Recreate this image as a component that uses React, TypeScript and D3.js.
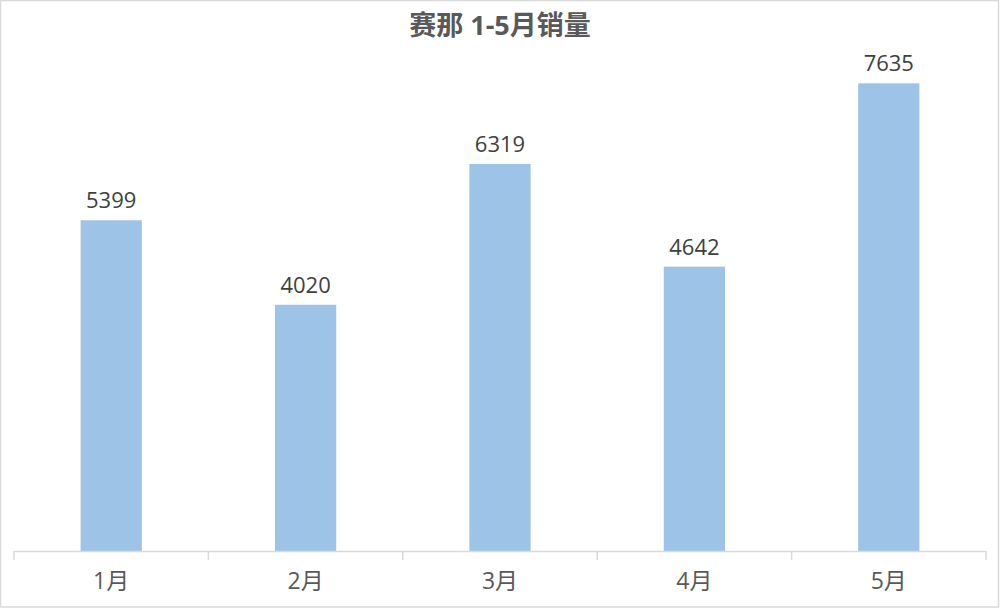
import React from 'react';
import * as d3 from "d3";

const months = ["1月", "2月", "3月", "4月", "5月"];
const sales = [5399, 4020, 6319, 4642, 7635];
const title = "赛那 1-5月销量";

const width = 1000, height = 608;
const margin = { top: 61, right: 14, bottom: 57, left: 14 };
const font = "'Open Sans', 'Noto Sans CJK SC', sans-serif";

export default function App() {
  const x = d3.scaleBand<string>()
    .domain(months)
    .range([margin.left, width - margin.right])
    .paddingInner(0.685)
    .paddingOuter(0.3425);

  const y = d3.scaleLinear()
    .domain([0, 8000])
    .range([height - margin.bottom, margin.top]);

  const baseY = y(0);
  // tick marks sit on category boundaries
  const bounds = d3.range(months.length + 1).map(i => margin.left + i * (width - margin.left - margin.right) / months.length);

  return (
    <svg width={width} height={height}
      style={{ position: "absolute", left: 0, top: 0, background: "#fff" }}>
      <rect x={0.5} y={0.5} width={width - 2} height={height - 1.5}
        fill="#fff" stroke="#d9d9d9" strokeWidth={1.5} />
      <text x={width / 2} y={35} textAnchor="middle" fontFamily={font}
        fontSize={27} fontWeight="bold" fill="#595959">{title}</text>

      {months.map((m, i) => (
        <rect key={m} x={x(m)} y={y(sales[i])} width={x.bandwidth()}
          height={baseY - y(sales[i])} fill="#9dc3e6" />
      ))}

      {months.map((m, i) => (
        <text key={"v" + m} x={(x(m) as number) + x.bandwidth() / 2} y={y(sales[i]) - 12}
          textAnchor="middle" fontFamily={font} fontSize={22} fill="#404040">{sales[i]}</text>
      ))}

      <line x1={margin.left} x2={width - margin.right} y1={baseY + 0.5} y2={baseY + 0.5}
        stroke="#d9d9d9" strokeWidth={1.5} />
      {bounds.map((b, i) => (
        <line key={"t" + i} x1={b} x2={b} y1={baseY} y2={baseY + 9}
          stroke="#d9d9d9" strokeWidth={1.5} />
      ))}

      {months.map(m => (
        <text key={"l" + m} x={(x(m) as number) + x.bandwidth() / 2} y={589}
          textAnchor="middle" fontFamily={font} fontSize={23} fill="#595959">{m}</text>
      ))}
    </svg>
  );
}
